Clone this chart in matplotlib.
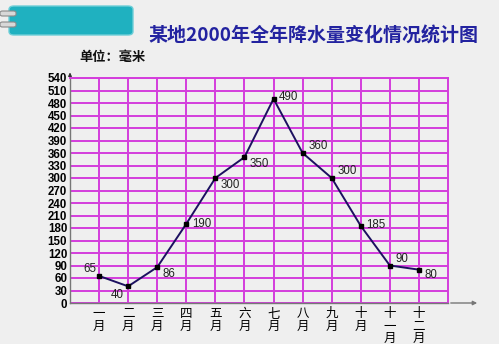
import matplotlib
matplotlib.use("Agg")
import matplotlib.pyplot as plt
from matplotlib.patches import FancyBboxPatch

plt.rcParams['font.family'] = ['Noto Sans CJK SC', 'DejaVu Sans']
num_font = ['Liberation Sans', 'DejaVu Sans']

months = ['一\n月', '二\n月', '三\n月', '四\n月', '五\n月', '六\n月',
          '七\n月', '八\n月', '九\n月', '十\n月', '十\n一\n月', '十\n二\n月']
rain = [65, 40, 86, 190, 300, 350, 490, 360, 300, 185, 90, 80]
# label offsets in points (dx, dy)
offsets = [(-2, 5), (-3, -6), (4, -5), (4, 0), (4, -5), (4, -5),
           (4, 1), (4, 5), (4, 5), (4, 1), (4, 5), (4, -4)]
yticks = list(range(0, 541, 30))

W, H = 499, 344
fig = plt.figure(figsize=(W / 100, H / 100), dpi=100)
fig.patch.set_facecolor('#efefef')

# teal header tab
tab = FancyBboxPatch((9 / W, 1 - 35 / H), 124 / W, 29 / H,
                     boxstyle='round,pad=0,rounding_size=0.01',
                     transform=fig.transFigure, fc='#1fb1c0', ec='#6fcfd8', lw=1)
fig.patches.append(tab)
for yy in (13, 24):
    clip = FancyBboxPatch((0, 1 - (yy + 3) / H), 16 / W, 5 / H,
                          boxstyle='round,pad=0,rounding_size=0.005',
                          transform=fig.transFigure, fc='#d8d8d8', ec='#8a8a8a', lw=0.8)
    fig.patches.append(clip)

fig.text(313 / W, 1 - 36 / H, '某地2000年全年降水量变化情况统计图', ha='center', va='center',
         fontsize=13.7, fontweight='bold', color='#2323a0')
fig.text(79 / W, 1 - 57 / H, '单位：毫米', ha='left', va='center',
         fontsize=9.5, fontweight='bold', color='#111111')

ax = fig.add_axes([70 / W, 1 - 303 / H, (448 - 70) / W, (303 - 78) / H])
ax.set_facecolor('#efefef')
ax.set_xlim(0, 13)
ax.set_ylim(0, 540)

grid_c = '#d43ddc'
ax.set_yticks(yticks)
ax.set_yticklabels([str(v) for v in yticks], fontsize=8.3, fontweight='bold',
                   family=num_font)
ax.set_xticks(range(1, 13))
ax.set_xticklabels(months, fontsize=9, linespacing=0.95, va='top')
ax.tick_params(length=0, pad=2)
ax.tick_params(axis='x', pad=3)
ax.grid(True, color=grid_c, lw=1.4)
ax.set_axisbelow(True)
for s in ('top', 'right'):
    ax.spines[s].set_color(grid_c)
    ax.spines[s].set_linewidth(1.4)
for s in ('left', 'bottom'):
    ax.spines[s].set_color('#777777')
    ax.spines[s].set_linewidth(1)

# axis arrows
ax.annotate('', xy=(14.1, 0), xytext=(13, 0), annotation_clip=False,
            arrowprops=dict(arrowstyle='-|>', color='#777777', lw=1, mutation_scale=6))
ax.annotate('', xy=(0, 560), xytext=(0, 540), annotation_clip=False,
            arrowprops=dict(arrowstyle='-|>', color='#333333', lw=0.8, mutation_scale=5))

x = list(range(1, 13))
ax.plot(x, rain, color='#1c1060', lw=1.4, marker='s', ms=3,
        mfc='#000000', mec='#000000', clip_on=False, zorder=3)
for xi, v, (dx, dy) in zip(x, rain, offsets):
    ha = 'right' if dx < 0 else 'left'
    ax.annotate(str(v), (xi, v), xytext=(dx, dy), textcoords='offset points',
                ha=ha, va='center', fontsize=8.3, color='#222222', family=num_font)

fig.savefig('out.png', dpi=100, facecolor=fig.get_facecolor())
